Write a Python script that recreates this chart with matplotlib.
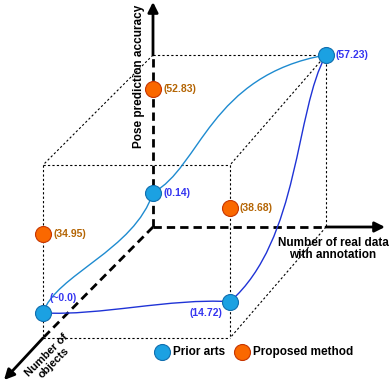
import numpy as np
import matplotlib.pyplot as plt
from matplotlib.path import Path
from matplotlib.patches import PathPatch, FancyArrowPatch

plt.rcParams['font.family'] = ['Liberation Sans', 'DejaVu Sans']

# points: (objects axis 0=back/1=front, real data axis 0=left/1=right, accuracy level 0..1)
prior_obj = [1, 0, 1, 0]
prior_real = [0, 0, 1, 1]
prior_acc = [0.145, 0.2, 0.21, 1.0]
prior_labels = ['(~0.0)', '(0.14)', '(14.72)', '(57.23)']

prop_obj = [1, 0, 1]
prop_real = [0, 0, 1]
prop_acc = [0.6, 0.8, 0.75]
prop_labels = ['(34.95)', '(52.83)', '(38.68)']

axis_names = ['Pose prediction accuracy', 'Number of real data\nwith annotation', 'Number of\nobjects']
legend_names = ['Prior arts', 'Proposed method']

blue, blue_edge = '#1BA1E2', '#106EAF'
orange, orange_edge = '#FA6800', '#C73500'
blue_txt, orange_txt = '#3535F0', '#B46504'


def proj(x, y, z):
    # simple cube projection in pixel space
    px = 153 - 110 * z + x * (173 + 14 * z)
    py = 227 - 172 * y + 111 * z - y * z
    return px, py


fig = plt.figure(figsize=(3.9, 3.88), dpi=100)
ax = fig.add_axes([0, 0, 1, 1])
ax.set_xlim(0, 390)
ax.set_ylim(388, 0)
ax.axis('off')

# cube edges (dotted)
edges = [((0, 1, 0), (1, 1, 0)), ((1, 1, 0), (1, 0, 0)),
         ((0, 1, 1), (1, 1, 1)), ((0, 0, 1), (1, 0, 1)),
         ((0, 1, 1), (0, 0, 1)), ((1, 1, 1), (1, 0, 1)),
         ((0, 1, 0), (0, 1, 1)), ((1, 1, 0), (1, 1, 1)), ((1, 0, 0), (1, 0, 1))]
for a, b in edges:
    p, q = proj(*a), proj(*b)
    ax.plot([p[0], q[0]], [p[1], q[1]], color='black', lw=0.8, ls=(0, (2, 2)), zorder=1)

# main axes (dashed inside the cube, solid arrow outside)
o = proj(0, 0, 0)
for end, tip in [(proj(0, 1, 0), (153, 2)), (proj(1, 0, 0), (385, 227)), (proj(0, 0, 1), (4, 380))]:
    ax.plot([o[0], end[0]], [o[1], end[1]], color='black', lw=2, ls=(0, (3, 1.8)), zorder=2)
    ax.add_patch(FancyArrowPatch(end, tip, arrowstyle='-|>,head_length=6,head_width=3',
                                 color='black', lw=2, shrinkA=0, shrinkB=0, zorder=2))

# connecting curves
pa = [proj(r, a, o_) for o_, r, a in zip(prior_obj, prior_real, prior_acc)]
A, B, C, D = pa
light = Path([A, (55, 275), (135, 250), B, (200, 168), (210, 75), D],
             [Path.MOVETO] + [Path.CURVE4] * 6)
dark = Path([A, (100, 316), (170, 298), C, (300, 240), (295, 110), D],
            [Path.MOVETO] + [Path.CURVE4] * 6)
ax.add_patch(PathPatch(light, fc='none', ec='#1E8BD0', lw=1.0, zorder=3))
ax.add_patch(PathPatch(dark, fc='none', ec='#1F33D6', lw=1.0, zorder=3))

# markers
ax.plot([p[0] for p in pa], [p[1] for p in pa], 'o', ms=11.5, mfc=blue, mec=blue_edge, mew=0.8, zorder=5)
pb = [proj(r, a, o_) for o_, r, a in zip(prop_obj, prop_real, prop_acc)]
ax.plot([p[0] for p in pb], [p[1] for p in pb], 'o', ms=11.5, mfc=orange, mec=orange_edge, mew=0.8, zorder=5)

# value labels
lbl = dict(fontsize=7.5, fontweight='bold', va='center', zorder=6)
for i, (p, t) in enumerate(zip(pa, prior_labels)):
    if i == 0:
        ax.text(p[0] + 7, p[1] - 15, t, color=blue_txt, ha='left', **lbl)
    elif i == 2:
        ax.text(p[0] - 8, p[1] + 11, t, color=blue_txt, ha='right', **lbl)
    else:
        ax.text(p[0] + 10, p[1], t, color=blue_txt, ha='left', **lbl)
for p, t in zip(pb, prop_labels):
    ax.text(p[0] + 10, p[1], t, color=orange_txt, ha='left', **lbl)

# axis titles
tf = dict(fontsize=8.5, fontweight='bold', color='black', ha='center', va='center', linespacing=1.0)
ax.text(139, 76, axis_names[0], rotation=90, **tf)
ax.text(333, 249, axis_names[1], **tf)
ax.text(50, 359, axis_names[2], rotation=45, rotation_mode='anchor',
        **{**tf, 'fontsize': 8.0})

# legend
ax.plot([162], [352], 'o', ms=11.5, mfc=blue, mec=blue_edge, mew=0.8)
ax.text(173, 352, legend_names[0], fontsize=8.5, fontweight='bold', va='center', ha='left')
ax.plot([242], [352], 'o', ms=11.5, mfc=orange, mec=orange_edge, mew=0.8)
ax.text(253, 352, legend_names[1], fontsize=8.5, fontweight='bold', va='center', ha='left')

fig.savefig('out.png', dpi=100)
